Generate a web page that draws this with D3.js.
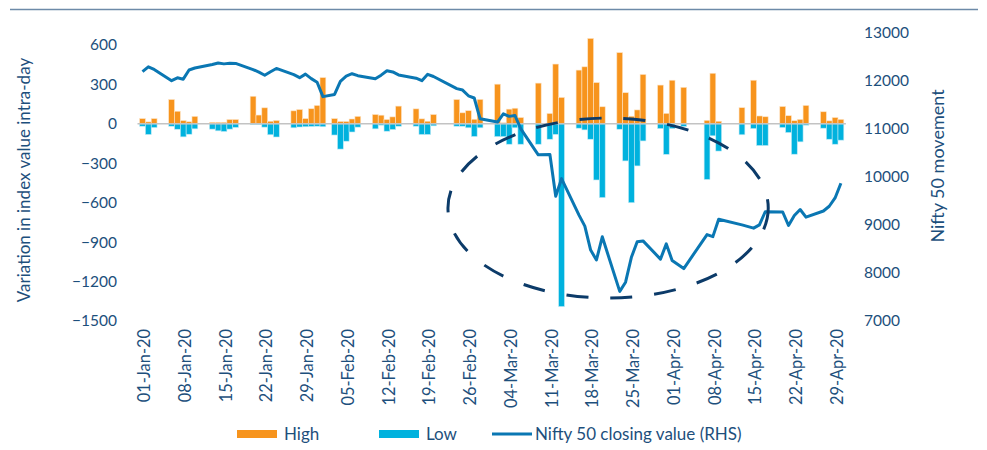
<!DOCTYPE html>
<html>
<head>
<meta charset="utf-8">
<script src="https://cdn.jsdelivr.net/npm/d3@7/dist/d3.min.js"></script>
<style>
  body { margin: 0; background: #fff; }
  svg text { font-family: Lato, "Open Sans", sans-serif; fill: #1d4f7c; }
</style>
</head>
<body>
<div id="chart"></div>
<script>
// trading days shown on the chart
var dates = [
  "01-Jan-20","02-Jan-20","03-Jan-20","06-Jan-20","07-Jan-20","08-Jan-20","09-Jan-20","10-Jan-20",
  "13-Jan-20","14-Jan-20","15-Jan-20","16-Jan-20","17-Jan-20","20-Jan-20","21-Jan-20","22-Jan-20",
  "23-Jan-20","24-Jan-20","27-Jan-20","28-Jan-20","29-Jan-20","30-Jan-20","31-Jan-20","01-Feb-20",
  "03-Feb-20","04-Feb-20","05-Feb-20","06-Feb-20","07-Feb-20","10-Feb-20","11-Feb-20","12-Feb-20",
  "13-Feb-20","14-Feb-20","17-Feb-20","18-Feb-20","19-Feb-20","20-Feb-20","24-Feb-20","25-Feb-20",
  "26-Feb-20","27-Feb-20","28-Feb-20","02-Mar-20","03-Mar-20","04-Mar-20","05-Mar-20","06-Mar-20",
  "09-Mar-20","11-Mar-20","12-Mar-20","13-Mar-20","16-Mar-20","17-Mar-20","18-Mar-20","19-Mar-20",
  "20-Mar-20","23-Mar-20","24-Mar-20","25-Mar-20","26-Mar-20","27-Mar-20","30-Mar-20","31-Mar-20",
  "01-Apr-20","03-Apr-20","07-Apr-20","08-Apr-20","09-Apr-20","13-Apr-20","15-Apr-20","16-Apr-20",
  "17-Apr-20","20-Apr-20","21-Apr-20","22-Apr-20","23-Apr-20","24-Apr-20","27-Apr-20","28-Apr-20",
  "29-Apr-20","30-Apr-20"
];

// intra-day rise (orange bars)
var high = [
  40, 15, 40, 185, 96, 25, 16, 57,
  12, 12, 12, 33, 33, 210, 67, 122,
  20, 26, 99, 109, 40, 115, 140, 352,
  40, 18, 18, 37, 57, 71, 66, 33,
  53, 135, 114, 38, 20, 71, 185, 84,
  100, 35, 186, 302, 8, 112, 119, 48,
  310, 79, 455, 201, 409, 434, 650, 314,
  130, 542, 237, 58, 106, 376, 295, 80,
  332, 278, 27, 385, 20, 123, 332, 60,
  54, 132, 62, 24, 34, 140, 92, 23,
  48, 34
];

// intra-day fall (cyan bars)
var low = [
  -18, -81, -28, -18, -41, -99, -79, -38,
  -40, -53, -58, -40, -27, -5, -5, -25,
  -83, -100, -30, -24, -22, -20, -18, -22,
  -85, -192, -132, -62, -25, -38, -10, -56,
  -43, -18, -18, -81, -81, -15, -18, -18,
  -30, -96, -30, -97, -97, -155, -30, -155,
  -155, -117, -80, -1390, -33, -46, -117, -427,
  -561, -41, -282, -600, -320, -130, -36, -232,
  -36, -20, -423, -91, -207, -83, -36, -165,
  -165, -28, -66, -231, -137, -10, -33, -117,
  -155, -124
];

// Nifty 50 closing value (right axis)
var close = [
  12182, 12282, 12227, 11993, 12053, 12025, 12216, 12257,
  12330, 12362, 12343, 12356, 12352, 12225, 12170, 12107,
  12180, 12248, 12119, 12056, 12130, 12036, 11962, 11662,
  11708, 11980, 12089, 12138, 12098, 12032, 12108, 12201,
  12175, 12113, 12046, 11993, 12126, 12081, 11829, 11798,
  11679, 11633, 11202, 11133, 11303, 11251, 11269, 10989,
  10451, 10458, 9590, 9955, 9197, 8967, 8469, 8263,
  8745, 7610, 7801, 8318, 8641, 8660, 8281, 8598,
  8254, 8084, 8792, 8749, 9112, 8994, 8925, 8993,
  9267, 9262, 8981, 9187, 9314, 9154, 9282, 9381,
  9553, 9860
];

var tickLabels = ["01-Jan-20","08-Jan-20","15-Jan-20","22-Jan-20","29-Jan-20","05-Feb-20",
  "12-Feb-20","19-Feb-20","26-Feb-20","04-Mar-20","11-Mar-20","18-Mar-20","25-Mar-20",
  "01-Apr-20","08-Apr-20","15-Apr-20","22-Apr-20","29-Apr-20"];
var leftTicks = [600, 300, 0, -300, -600, -900, -1200, -1500];
var rightTicks = [13000, 12000, 11000, 10000, 9000, 8000, 7000];

var W = 987, H = 450;
var colHigh = "#f7941d", colLow = "#00b2de", colLine = "#0a77b3", colText = "#1d4f7c";

var parse = d3.utcParse("%d-%b-%y");
var rows = dates.map(function(d, i) {
  return {date: parse(d), high: high[i], low: low[i], close: close[i]};
});

var svg = d3.select("#chart").append("svg").attr("width", W).attr("height", H);

var x = d3.scaleUtc()
  .domain([parse("01-Jan-20"), parse("30-Apr-20")])
  .range([142.5, 840.9]);
var yL = d3.scaleLinear().domain([-1500, 600]).range([321, 45]);
var yR = d3.scaleLinear().domain([7000, 13000]).range([320.7, 32.3]);
var dayW = x(parse("02-Jan-20")) - x(parse("01-Jan-20"));

// rule on top
svg.append("line").attr("x1", 10).attr("x2", 978).attr("y1", 9.5).attr("y2", 9.5)
  .attr("stroke", "#6d8aa8").attr("stroke-width", 1.5);

// bars
var bars = svg.append("g");
bars.selectAll("rect.hi").data(rows).join("rect").attr("class", "hi")
  .attr("x", function(d) { return x(d.date) - dayW / 2; })
  .attr("width", dayW)
  .attr("y", function(d) { return yL(d.high); })
  .attr("height", function(d) { return yL(0) - yL(d.high); })
  .attr("fill", colHigh).attr("stroke", "#fde3c4").attr("stroke-width", 0.6);
bars.selectAll("rect.lo").data(rows).join("rect").attr("class", "lo")
  .attr("x", function(d) { return x(d.date) - dayW / 2; })
  .attr("width", dayW)
  .attr("y", yL(0))
  .attr("height", function(d) { return yL(d.low) - yL(0); })
  .attr("fill", colLow).attr("stroke", "#bfeaf6").attr("stroke-width", 0.6);

// zero line
svg.append("line")
  .attr("x1", x(parse("01-Jan-20")) - 5).attr("x2", x(parse("30-Apr-20")) + 5)
  .attr("y1", yL(0)).attr("y2", yL(0))
  .attr("stroke", "#c3c3c3").attr("stroke-width", 1.5);

// closing line
var line = d3.line()
  .x(function(d) { return x(d.date); })
  .y(function(d) { return yR(d.close); });
svg.append("path").datum(rows)
  .attr("d", line)
  .attr("fill", "none").attr("stroke", colLine).attr("stroke-width", 3)
  .attr("stroke-linejoin", "round");

// dashed ellipse around March crash
var cDate = parse("21-Mar-20");
svg.append("ellipse")
  .attr("cx", x(cDate))
  .attr("cy", yR(9344))
  .attr("rx", x(d3.utcDay.offset(cDate, 27)) - x(cDate) + 3)
  .attr("ry", yR(9344) - yR(11216))
  .attr("fill", "none").attr("stroke", "#0c3b69").attr("stroke-width", 3)
  .attr("stroke-dasharray", "22,22");

// left axis
var axL = svg.append("g").attr("transform", "translate(117,0)")
  .call(d3.axisLeft(yL).tickValues(leftTicks).tickSize(0).tickPadding(0).tickFormat(d3.format("d")));
axL.select(".domain").remove();
axL.selectAll("text").attr("font-size", 15.5).style("fill", colText);

// right axis
var axR = svg.append("g").attr("transform", "translate(864,0)")
  .call(d3.axisRight(yR).tickValues(rightTicks).tickSize(0).tickPadding(0).tickFormat(d3.format("d")));
axR.select(".domain").remove();
axR.selectAll("text").attr("font-size", 15.5).style("fill", colText);

// x labels
svg.append("g").selectAll("text").data(tickLabels).join("text")
  .attr("transform", function(d) { return "translate(" + (x(parse(d)) + 2) + ",329) rotate(-90)"; })
  .attr("text-anchor", "end").attr("dy", "0.35em")
  .attr("font-size", 16.4)
  .text(function(d) { return d; });

// axis titles
svg.append("text").attr("transform", "translate(24,180) rotate(-90)")
  .attr("text-anchor", "middle").attr("dy", "0.35em").attr("font-size", 17)
  .text("Variation in index value intra-day");
svg.append("text").attr("transform", "translate(938,166) rotate(-90)")
  .attr("text-anchor", "middle").attr("dy", "0.35em").attr("font-size", 18)
  .text("Nifty 50 movement");

// legend
var lg = svg.append("g").attr("transform", "translate(0,434)");
lg.append("rect").attr("x", 237).attr("y", -4).attr("width", 40).attr("height", 8).attr("fill", colHigh);
lg.append("text").attr("x", 284).attr("dy", "0.35em").attr("font-size", 17).text("High");
lg.append("rect").attr("x", 379).attr("y", -4).attr("width", 40).attr("height", 8).attr("fill", colLow);
lg.append("text").attr("x", 426).attr("dy", "0.35em").attr("font-size", 17).text("Low");
lg.append("line").attr("x1", 492).attr("x2", 532).attr("y1", 0).attr("y2", 0)
  .attr("stroke", colLine).attr("stroke-width", 3);
lg.append("text").attr("x", 535).attr("dy", "0.35em").attr("font-size", 17).text("Nifty 50 closing value (RHS)");
</script>
</body>
</html>
